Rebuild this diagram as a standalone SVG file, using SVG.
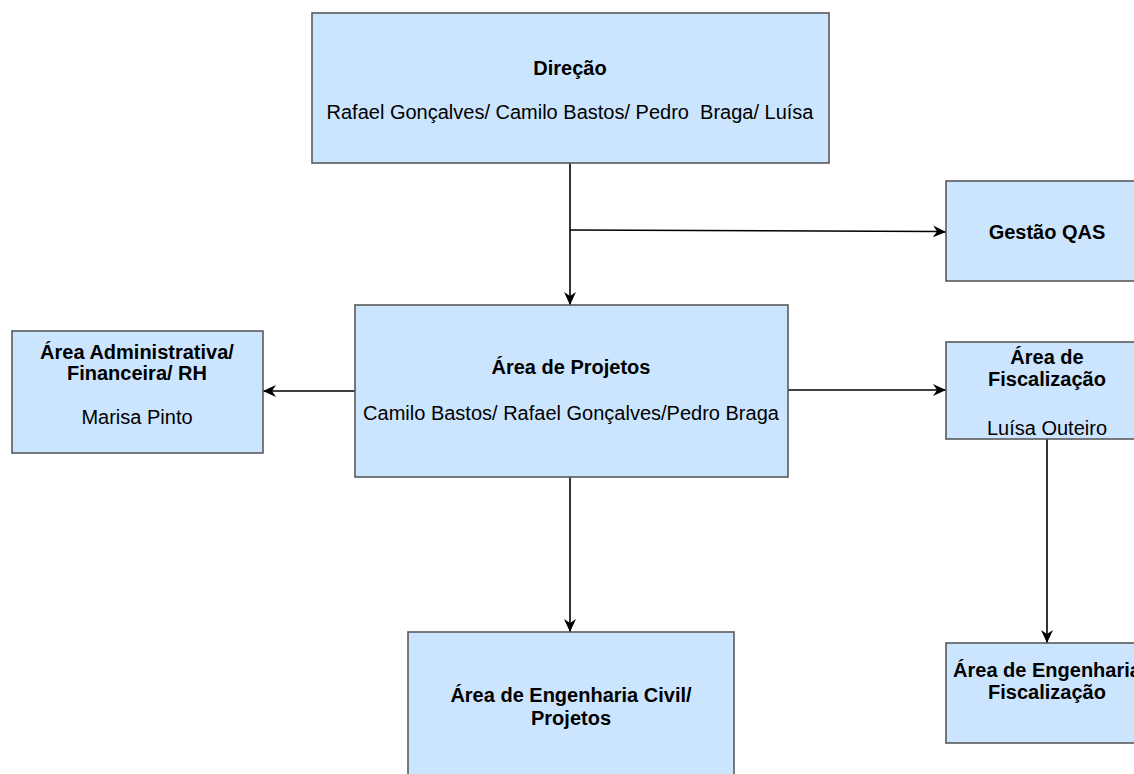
<svg xmlns="http://www.w3.org/2000/svg" width="1134" height="774" viewBox="0 0 1134 774">
<style>
.box{fill:#cce5ff;stroke:#5a5a5a;stroke-width:1.6}
.t{font-family:"Liberation Sans",Arial,sans-serif;font-size:20px;fill:#000;text-anchor:middle}
.b{font-weight:bold}
.c{fill:none;stroke:#000;stroke-width:1.6}
</style>
<defs>
<marker id="ar" markerUnits="userSpaceOnUse" markerWidth="14" markerHeight="12" refX="13" refY="6" orient="auto">
<path d="M0,0 L13,6 L0,12 L4,6 Z" fill="#000"/>
</marker>
</defs>
<rect width="1134" height="774" fill="#fff"/>
<g id="connectors">
<path class="c" d="M570,163 V305" marker-end="url(#ar)"/>
<path class="c" d="M570,230 L935,231.5 L946,232" marker-end="url(#ar)"/>
<path class="c" d="M355,391 H263" marker-end="url(#ar)"/>
<path class="c" d="M788,390 H946" marker-end="url(#ar)"/>
<path class="c" d="M570,477 V632" marker-end="url(#ar)"/>
<path class="c" d="M1047,439 V643" marker-end="url(#ar)"/>
</g>
<g id="direcao">
<rect class="box" x="312" y="13" width="517" height="150"/>
<text class="t b" x="570" y="75">Direção</text>
<text class="t" x="570" y="119" xml:space="preserve">Rafael Gonçalves/ Camilo Bastos/ Pedro  Braga/ Luísa</text>
</g>
<g id="gestao-qas">
<rect class="box" x="946" y="181" width="202" height="100"/>
<text class="t b" x="1047" y="239">Gestão QAS</text>
</g>
<g id="area-admin">
<rect class="box" x="12" y="331" width="251" height="122"/>
<text class="t b" x="137" y="359">Área Administrativa/</text>
<text class="t b" x="137" y="380">Financeira/ RH</text>
<text class="t" x="137" y="424">Marisa Pinto</text>
</g>
<g id="area-projetos">
<rect class="box" x="355" y="305" width="433" height="172"/>
<text class="t b" x="571" y="374">Área de Projetos</text>
<text class="t" x="571" y="420">Camilo Bastos/ Rafael Gonçalves/Pedro Braga</text>
</g>
<g id="area-fiscalizacao">
<rect class="box" x="946" y="342" width="202" height="97"/>
<text class="t b" x="1047" y="364">Área de</text>
<text class="t b" x="1047" y="386">Fiscalização</text>
<text class="t" x="1047" y="435">Luísa Outeiro</text>
</g>
<g id="eng-civil">
<rect class="box" x="408" y="632" width="326" height="172"/>
<text class="t b" x="571" y="702">Área de Engenharia Civil/</text>
<text class="t b" x="571" y="725">Projetos</text>
</g>
<g id="eng-fiscalizacao">
<rect class="box" x="946" y="643" width="202" height="100"/>
<text class="t b" x="1047" y="677">Área de Engenharia</text>
<text class="t b" x="1047" y="699">Fiscalização</text>
</g>
</svg>
